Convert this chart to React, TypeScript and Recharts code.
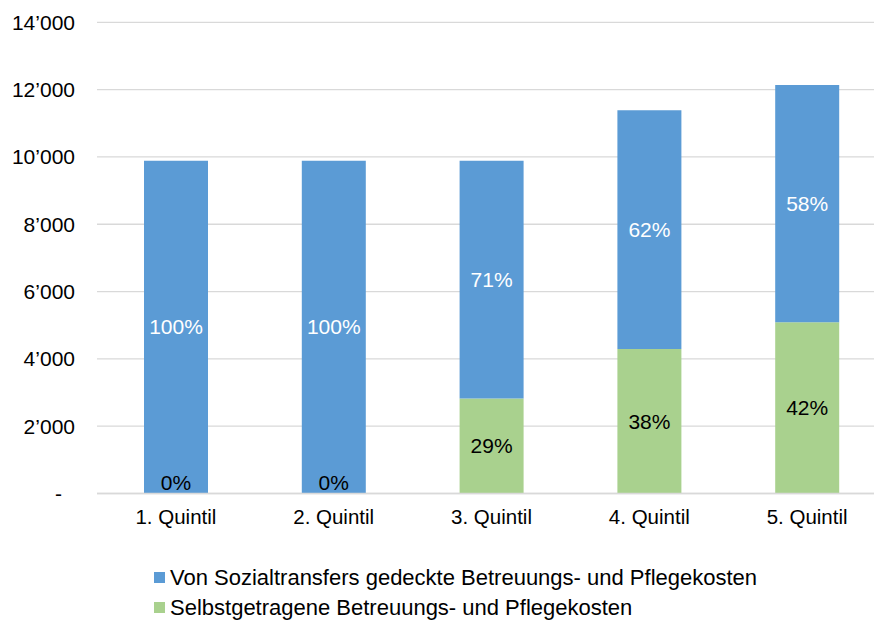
import React from "react";
import { BarChart, Bar, XAxis, YAxis, CartesianGrid, Legend, LabelList } from "recharts";

const categories = ["1. Quintil", "2. Quintil", "3. Quintil", "4. Quintil", "5. Quintil"];
const covered = [9890, 9890, 7070, 7100, 7050];
const selfPaid = [0, 0, 2820, 4290, 5090];
const coveredLabels = ["100%", "100%", "71%", "62%", "58%"];
const selfPaidLabels = ["0%", "0%", "29%", "38%", "42%"];
const yTicks = [0, 2000, 4000, 6000, 8000, 10000, 12000, 14000];
const seriesNames = [
  "Von Sozialtransfers gedeckte Betreuungs- und Pflegekosten",
  "Selbstgetragene Betreuungs- und Pflegekosten",
];

const BLUE = "#5B9BD5";
const GREEN = "#A9D18E";
const FONT = "'Liberation Sans', Arial, sans-serif";

const data = categories.map((c, i) => ({
  name: c,
  covered: covered[i],
  selfPaid: selfPaid[i],
  coveredLabel: coveredLabels[i],
  selfPaidLabel: selfPaidLabels[i],
}));

const fmt = (v: number) => {
  if (v === 0) return "-";
  const s = String(v);
  return s.slice(0, s.length - 3) + "\u2019" + s.slice(s.length - 3);
};

const YTick = (props: any) => {
  const { y, payload } = props;
  const v = payload.value;
  return (
    <text
      x={v === 0 ? 62 : 75}
      y={y}
      dy="0.35em"
      textAnchor="end"
      fontSize={21}
      fontFamily={FONT}
      fill="#000"
    >
      {fmt(v)}
    </text>
  );
};

const XTick = (props: any) => {
  const { x, y, payload } = props;
  return (
    <text x={x} y={y + 15} dy="0.35em" textAnchor="middle" fontSize={20.5} fontFamily={FONT} fill="#000">
      {payload.value}
    </text>
  );
};

const CenterLabel = (color: string) => (props: any) => {
  const { x, y, width, height, value } = props;
  if (!value || Math.abs(height) < 1) return null;
  return (
    <text
      x={x + width / 2}
      y={y + height / 2}
      dy="0.35em"
      textAnchor="middle"
      fontSize={21}
      fontFamily={FONT}
      fill={color}
    >
      {value}
    </text>
  );
};

// label for a zero-height self-paid segment, drawn just above the axis on the stacked bar
const ZeroLabel = (props: any) => {
  const { x, y, width, height, value } = props;
  if (!value) return null;
  return (
    <text
      x={x + width / 2}
      y={y + height - 11}
      dy="0.35em"
      textAnchor="middle"
      fontSize={21}
      fontFamily={FONT}
      fill="#000"
    >
      {value}
    </text>
  );
};

const LegendContent = () => (
  <div style={{ height: 96.5, position: "relative", fontFamily: FONT, fontSize: 22, color: "#000" }}>
    {[BLUE, GREEN].map((c, i) => (
      <div
        key={i}
        style={{
          position: "absolute",
          left: 154,
          top: 42 + i * 30,
          display: "flex",
          alignItems: "center",
          whiteSpace: "nowrap",
          lineHeight: "24px",
        }}
      >
        <span style={{ display: "inline-block", width: 11, height: 11, background: c, marginRight: 5 }} />
        <span>{seriesNames[i]}</span>
      </div>
    ))}
  </div>
);

export default function App() {
  return (
    <div style={{ position: "absolute", left: 0, top: 0, width: 874, height: 620, overflow: "hidden", background: "#fff" }}>
      <BarChart
        width={890}
        height={620}
        data={data}
        margin={{ top: 22.3, right: 4, bottom: 0, left: 0 }}
        barSize={64}
      >
        <CartesianGrid vertical={false} stroke="#D9D9D9" strokeWidth={1.3} />
        <XAxis
          dataKey="name"
          axisLine={{ stroke: "#D9D9D9", strokeWidth: 1.3 }}
          tickLine={false}
          height={30}
          tick={<XTick />}
          interval={0}
        />
        <YAxis
          width={97}
          domain={[0, 14000]}
          ticks={yTicks}
          axisLine={false}
          tickLine={false}
          tick={<YTick />}
          interval={0}
        />
        <Legend verticalAlign="bottom" height={96.5} content={<LegendContent />} />
        <Bar dataKey="selfPaid" stackId="a" fill={GREEN} isAnimationActive={false} name={seriesNames[1]}>
          <LabelList dataKey="selfPaidLabel" content={CenterLabel("#000")} />
        </Bar>
        <Bar dataKey="covered" stackId="a" fill={BLUE} isAnimationActive={false} name={seriesNames[0]}>
          <LabelList dataKey="coveredLabel" content={CenterLabel("#fff")} />
          <LabelList
            dataKey={(d: any) => (d.selfPaid === 0 ? d.selfPaidLabel : "")}
            content={ZeroLabel}
          />
        </Bar>
      </BarChart>
    </div>
  );
}
